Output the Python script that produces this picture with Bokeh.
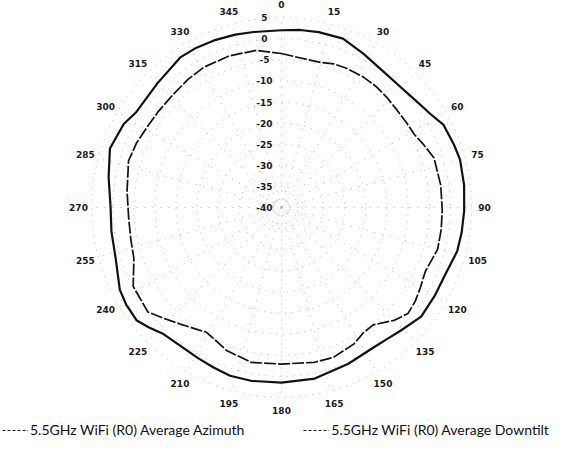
import numpy as np
from bokeh.plotting import figure
from bokeh.models import ColumnDataSource, Legend, LegendItem, Range1d
from bokeh.embed import file_html
from bokeh.resources import INLINE
from bokeh.core.properties import value

# ---- data ----
series_names = ["5.5GHz WiFi (R0) Average Azimuth", "5.5GHz WiFi (R0) Average Downtilt"]

az_angles = [0, 6, 12, 20, 28, 35, 43, 51, 58, 63, 70, 75, 83, 91, 98, 104, 113, 120, 128, 136,
             141, 147, 157, 169, 180, 190, 197, 203, 209, 216, 223, 228, 232, 238, 243, 253,
             262, 270, 280, 289, 298, 303, 315, 326, 332, 338, 345, 351]
az_db = [2.0, 2.3, 2.5, 2.6, 1.3, 0.4, 0.1, 0.6, 1.7, 3.1, 3.5, 3.8, 3.6, 3.3, 3.1, 2.9, 1.9,
         1.9, 2.0, 0.6, 0.0, -0.3, 0.3, 1.3, 1.5, 1.7, 1.7, 1.2, 0.8, 0.6, 1.0, 2.4, 3.5, 3.4,
         3.0, 1.1, 0.7, 0.5, 1.6, 3.0, 2.3, 1.2, 1.6, 2.9, 2.9, 2.7, 2.4, 2.1]

dt_angles = [0, 6, 15, 20, 25, 32, 38, 44, 50, 56, 61, 66, 72, 82, 91, 98, 105, 114, 120, 125,
             130, 135, 142, 147, 152, 161, 168, 180, 191, 201, 206, 211, 216, 221, 227, 232,
             242, 251, 258, 266, 276, 287, 294, 301, 308, 316, 324, 331, 341, 351]
dt_db = [-3.5, -4.2, -4.4, -3.8, -3.6, -3.5, -3.6, -3.9, -4.2, -4.2, -4.1, -3.2, -2.0, -1.9,
         -1.9, -1.8, -1.7, -2.7, -2.0, -1.3, -0.9, -2.2, -4.7, -4.5, -3.4, -2.4, -2.5, -2.9,
         -2.6, -3.7, -4.8, -5.5, -4.6, -3.4, -1.6, 0.2, -0.2, -3.0, -3.5, -3.7, -3.2, -2.1,
         -2.4, -2.9, -3.0, -2.9, -2.4, -2.0, -2.0, -2.3]

ring_values = [5, 0, -5, -10, -15, -20, -25, -30, -35, -40]
angle_ticks = list(range(0, 360, 15))

R_MIN = -40
R_MAX = 5

def to_xy(angles, vals):
    th = np.deg2rad(np.asarray(angles, dtype=float))
    r = np.asarray(vals, dtype=float) - R_MIN
    return r * np.sin(th), r * np.cos(th)

# ---- layout ----
PX = 4.22
W, H = 581, 450
CX, CY = 281, 207

p = figure(width=W, height=H, output_backend="svg", toolbar_location=None,
           x_range=Range1d(-CX / PX, (W - CX) / PX),
           y_range=Range1d(-(H - CY) / PX, CY / PX),
           x_axis_type=None, y_axis_type=None, min_border=0,
           outline_line_color=None, background_fill_color="white",
           border_fill_color="white")

# grid: dotted rings and spokes
rings = [v - R_MIN for v in ring_values if v > R_MIN]
p.circle(x=[0] * len(rings), y=[0] * len(rings), radius=rings, fill_color=None,
         line_color="#b0b0b0", line_dash="1 6", line_width=1)
sp_th = np.deg2rad(angle_ticks)
p.segment(x0=0, y0=0, x1=(R_MAX - R_MIN) * np.sin(sp_th), y1=(R_MAX - R_MIN) * np.cos(sp_th),
          line_color="#b0b0b0", line_dash="1 7", line_width=1)

# curves
ax, ay = to_xy(az_angles + [az_angles[0]], az_db + [az_db[0]])
dx, dy = to_xy(dt_angles + [dt_angles[0]], dt_db + [dt_db[0]])
p.line(ax, ay, line_color="#111111", line_width=2.2, line_join="round")
p.line(dx, dy, line_color="#111111", line_width=1.7, line_dash="12 2", line_join="round")

# radial tick labels
rl = ColumnDataSource(dict(x=[-17 / PX] * len(ring_values),
                           y=[v - R_MIN for v in ring_values],
                           t=[str(v) for v in ring_values]))
p.text(x="x", y="y", text="t", source=rl, text_align="center", text_baseline="middle",
       text_font=value("DejaVu Sans"), text_font_style="bold", text_font_size="9px",
       text_color="#1a1a1a")

# angular tick labels
LR = 203 / PX
lx = LR * np.sin(np.deg2rad(angle_ticks))
ly = np.minimum(LR * np.cos(np.deg2rad(angle_ticks)), CY / PX - 4 / PX)
al = ColumnDataSource(dict(x=lx, y=ly, t=[str(a) for a in angle_ticks]))
p.text(x="x", y="y", text="t", source=al, text_align="center", text_baseline="middle",
       text_font=value("DejaVu Sans"), text_font_style="bold", text_font_size="9px",
       text_color="#1a1a1a")

# legend keys (dashed, like the original) -- renderers kept outside the visible ranges
far = [1e4, 1e4 + 1]
k1 = p.line(far, far, line_color="#222222", line_width=1.2, line_dash="3 2")
k2 = p.line(far, far, line_color="#222222", line_width=1.2, line_dash="3 2")
legend = Legend(items=[LegendItem(label=series_names[0], renderers=[k1]),
                       LegendItem(label=series_names[1], renderers=[k2])],
                orientation="horizontal", location=(2, 12), padding=0, margin=0,
                spacing=59, glyph_width=26, glyph_height=14, label_standoff=2,
                label_height=14, label_text_font="Lato", label_text_font_size="14px",
                label_text_color="#111111", border_line_color=None,
                background_fill_alpha=0)
p.add_layout(legend, "center")

open("out.html", "w").write(file_html(p, INLINE))
